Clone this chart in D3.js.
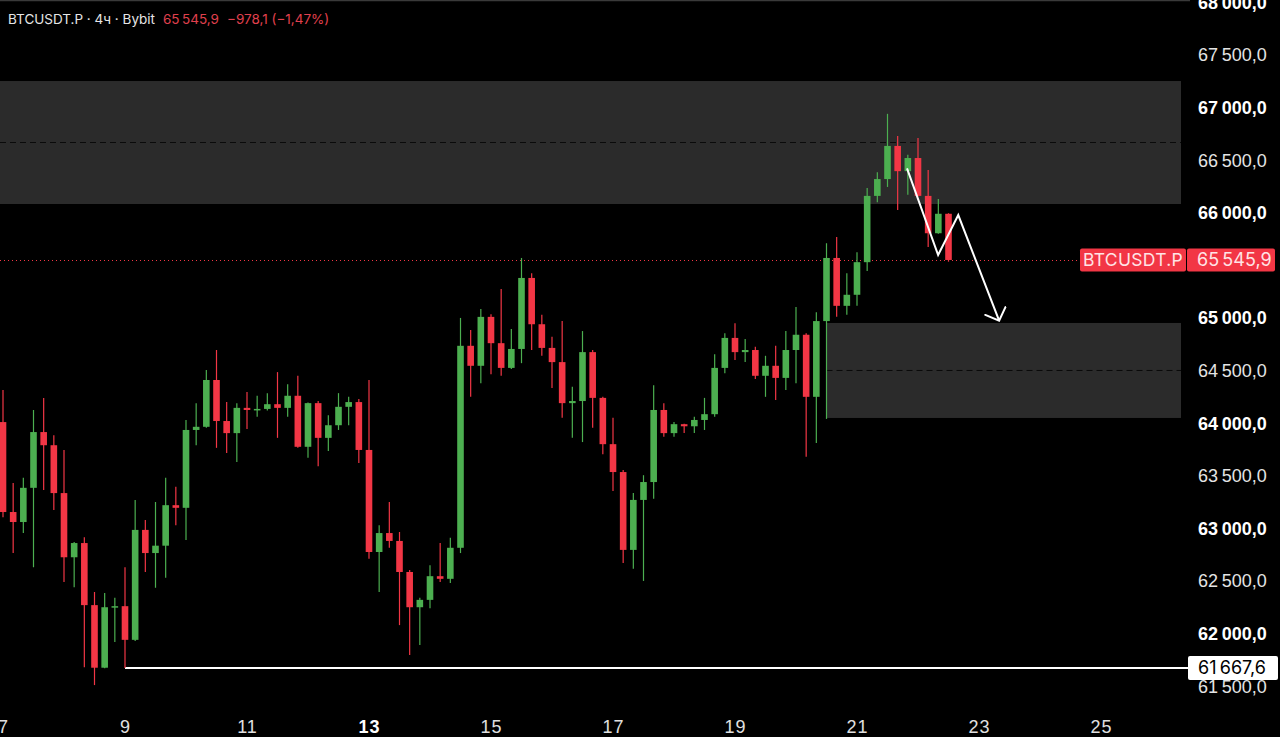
<!DOCTYPE html>
<html>
<head>
<meta charset="utf-8">
<script src="https://cdn.jsdelivr.net/npm/d3@7"></script>
<style>
  html, body { margin: 0; padding: 0; background: #000; }
  svg { display: block; font-family: Inter, "Noto Sans", sans-serif; }
</style>
</head>
<body>
<div id="chart"></div>
<script>
const width = 1280
const height = 737

// 4h candles, first bar opens on day 7 at 00:00
const firstBarDay = 7
const barsPerDay = 6

const opens = [64005, 63150, 63055, 63380, 63910, 63785, 63330, 62720, 62855, 62265, 61670, 62245,
    62255, 61935, 62980, 62760, 62830, 63215, 63190, 63930, 63960, 64405, 64015, 63900,
    64140, 64120, 64130, 64175, 64140, 64255, 63770, 64185, 63855, 63975, 64150, 64195,
    63740, 62770, 62950, 62875, 62580, 62245, 62315, 62540, 62515, 62810, 64730, 64540,
    65005, 64755, 64520, 64700, 65375, 64935, 64710, 64575, 64185, 64205, 64670, 64235,
    63795, 63530, 62790, 63265, 63435, 64120, 63900, 63985, 63965, 64025, 64080, 64520,
    64805, 64670, 64690, 64445, 64540, 64425, 64690, 64835, 64245, 64965, 65565, 65110,
    65215, 65525, 66155, 66315, 66630, 66390, 66515, 66155, 65800, 65985]
const highs = [64310, 63425, 63475, 64120, 64235, 63880, 63740, 62865, 62910, 62390, 62380, 62335,
    62625, 63265, 63075, 63245, 63475, 63390, 64025, 64185, 64500, 64690, 64195, 64185,
    64290, 64255, 64280, 64480, 64365, 64445, 64190, 64205, 64070, 64280, 64245, 64225,
    64405, 63025, 63245, 62960, 62600, 62335, 62645, 62855, 62905, 64995, 64880, 65080,
    65030, 65270, 64890, 65565, 65420, 65025, 64815, 64965, 64340, 64870, 64690, 64245,
    64045, 63550, 63330, 63500, 64355, 64185, 64005, 63990, 64055, 64235, 64650, 64850,
    64945, 64795, 64720, 64635, 64730, 64870, 65100, 64850, 65050, 65705, 65765, 65420,
    65620, 66230, 66380, 66935, 66725, 66545, 66705, 66400, 66125, 65990]
const lows = [63100, 62760, 62950, 62625, 63360, 63170, 62485, 62435, 61675, 61505, 61665, 61915,
    61667.6, 61925, 62580, 62430, 62525, 63025, 62885, 63785, 63950, 63760, 63710, 63625,
    63940, 64055, 64115, 63855, 64055, 63760, 63665, 63585, 63730, 63930, 63975, 63615,
    62705, 62390, 62810, 62075, 61790, 61885, 62235, 62485, 62475, 62760, 64245, 64375,
    64460, 64445, 64510, 64565, 64690, 64635, 64330, 64045, 63855, 63815, 63950, 63700,
    63350, 62665, 62610, 62495, 63275, 63865, 63865, 63900, 63900, 63930, 64055, 64470,
    64595, 64575, 64415, 64245, 64215, 64310, 64375, 63675, 63805, 64035, 65005, 65025,
    65110, 65440, 66095, 66240, 66020, 66165, 66150, 65670, 65795, 65530]
const closes = [63150, 63055, 63380, 63910, 63785, 63330, 62720, 62855, 62265, 61670, 62245, 62255,
    61935, 62980, 62760, 62830, 63215, 63190, 63930, 63960, 64405, 64015, 63900, 64140,
    64120, 64130, 64175, 64140, 64255, 63770, 64185, 63855, 63975, 64150, 64195, 63740,
    62770, 62950, 62875, 62580, 62245, 62315, 62540, 62515, 62810, 64730, 64540, 65005,
    64755, 64520, 64700, 65375, 64935, 64710, 64575, 64185, 64205, 64670, 64235, 63795,
    63530, 62790, 63265, 63435, 64120, 63900, 63985, 63965, 64025, 64080, 64520, 64805,
    64670, 64690, 64445, 64540, 64425, 64690, 64835, 64245, 64965, 65565, 65110, 65215,
    65525, 66155, 66315, 66630, 66390, 66515, 66155, 65800, 65985, 65545.9]

const yTicks = [61500, 62000, 62500, 63000, 63500, 64000, 64500, 65000, 66000, 66500, 67000, 67500, 68000]
const dayTicks = [7, 9, 11, 13, 15, 17, 19, 21, 23, 25]
const boldDay = 13

// supply / demand zones [low, high] and start day
const upperZone = [66078, 67247]
const lowerZone = [64044, 64947]
const lowerZoneStart = 20.5
const swingLow = 61667.6
const swingLowStart = 9
const lastPrice = 65545.9
const change = -978.1
const changePct = -1.47
const arrowPath = [[21.82, 66417], [22.33, 65593], [22.66, 65973], [23.33, 64969]]

const green = '#4caf50'
const red = '#f23645'

const locale = d3.formatLocale({ decimal: ',', thousands: '\u202f', grouping: [3], currency: ['', ''] })
const fmt = locale.format(',.1f')

const x = d3.scaleLinear().domain([7, 25]).range([3, 1101])
const y = d3.scaleLinear().domain([61500, 67000]).range([685.6, 107])
const paneRight = 1181

const bars = opens.map((o, i) => ({
    day: firstBarDay + i / barsPerDay,
    o, h: highs[i], l: lows[i], c: closes[i]
}))

const svg = d3.select('#chart').append('svg')
    .attr('width', width)
    .attr('height', height)

svg.append('rect').attr('width', width).attr('height', height).attr('fill', '#000')

// top separator
svg.append('line')
    .attr('x1', 0).attr('x2', 1190).attr('y1', 0.5).attr('y2', 0.5)
    .attr('stroke', '#3a3a3a').attr('stroke-width', 1.5)

// zones
const zone = (x0, range) => {
    svg.append('rect')
        .attr('x', x0).attr('width', paneRight - x0)
        .attr('y', y(range[1])).attr('height', y(range[0]) - y(range[1]))
        .attr('fill', '#2b2b2b')
    const mid = (range[0] + range[1]) / 2
    svg.append('line')
        .attr('x1', x0).attr('x2', paneRight)
        .attr('y1', y(mid)).attr('y2', y(mid))
        .attr('stroke', '#0a0a0a').attr('stroke-width', 1)
        .attr('stroke-dasharray', '6,4')
}
zone(0, upperZone)
zone(x(lowerZoneStart), lowerZone)

// last price dotted line
svg.append('line')
    .attr('x1', 0).attr('x2', 1080)
    .attr('y1', Math.round(y(lastPrice)) + 0.5).attr('y2', Math.round(y(lastPrice)) + 0.5)
    .attr('stroke', red).attr('stroke-width', 1)
    .attr('stroke-dasharray', '1,3')

// swing low line
svg.append('line')
    .attr('x1', x(swingLowStart)).attr('x2', 1188)
    .attr('y1', y(swingLow)).attr('y2', y(swingLow))
    .attr('stroke', '#fff').attr('stroke-width', 2)

// candles
const candle = svg.append('g').selectAll('g')
    .data(bars)
    .enter()
    .append('g')
    .attr('fill', d => d.c >= d.o ? green : red)
    .attr('stroke', d => d.c >= d.o ? green : red)

candle.append('line')
    .attr('x1', d => x(d.day)).attr('x2', d => x(d.day))
    .attr('y1', d => y(d.h)).attr('y2', d => y(d.l))
    .attr('stroke-width', 1.2)

candle.append('rect')
    .attr('x', d => x(d.day) - 3.3)
    .attr('width', 6.6)
    .attr('y', d => y(Math.max(d.o, d.c)))
    .attr('height', d => Math.max(1.5, Math.abs(y(d.o) - y(d.c))))
    .attr('stroke', 'none')

// arrow
svg.append('defs').append('marker')
    .attr('id', 'head')
    .attr('markerUnits', 'userSpaceOnUse')
    .attr('viewBox', '-1 -1 13 24')
    .attr('refX', 10.4).attr('refY', 10.8)
    .attr('markerWidth', 13).attr('markerHeight', 24)
    .attr('orient', 'auto')
    .append('path')
    .attr('d', 'M0,0 L10.4,10.8 L0,21.6')
    .attr('fill', 'none').attr('stroke', '#fff').attr('stroke-width', 2)
    .attr('stroke-linecap', 'round')

svg.append('path')
    .attr('d', d3.line().x(d => x(d[0])).y(d => y(d[1]))(arrowPath))
    .attr('fill', 'none').attr('stroke', '#fff').attr('stroke-width', 2)
    .attr('stroke-linejoin', 'miter')
    .attr('marker-end', 'url(#head)')

const labelStyle = sel => sel
    .style('font-size', '18px')
    .style('letter-spacing', '0.9px')

// price axis
const yAxis = svg.append('g')
    .attr('transform', 'translate(1198,0)')
    .call(d3.axisRight(y).tickValues(yTicks).tickSize(0).tickPadding(0).tickFormat(fmt))
yAxis.select('.domain').remove()
yAxis.selectAll('text')
    .attr('x', 0)
    .attr('dy', '0.36em')
    .attr('fill', d => d % 1000 === 0 ? '#fff' : '#e4e4e4')
    .call(labelStyle)
    .style('font-weight', d => d % 1000 === 0 ? 700 : 400)

// time axis
const xAxis = svg.append('g')
    .attr('transform', 'translate(0,727)')
    .call(d3.axisBottom(x).tickValues(dayTicks).tickSize(0).tickPadding(0).tickFormat(d3.format('d')))
xAxis.select('.domain').remove()
xAxis.selectAll('text')
    .attr('y', 0)
    .attr('dy', '0.36em')
    .attr('fill', d => d === boldDay ? '#fff' : '#e0e0e0')
    .call(labelStyle)
    .style('font-weight', d => d === boldDay ? 700 : 400)

// swing low label
svg.append('rect')
    .attr('x', 1188).attr('width', 90)
    .attr('y', y(swingLow) - 12).attr('height', 24)
    .attr('fill', '#fff').attr('rx', 2)
svg.append('text')
    .attr('x', 1198).attr('y', y(swingLow))
    .attr('dy', '0.36em')
    .attr('fill', '#000')
    .call(labelStyle)
    .text(fmt(swingLow))

// last price tags
const py = y(lastPrice)
svg.append('rect')
    .attr('x', 1080).attr('width', 106)
    .attr('y', py - 11.5).attr('height', 23)
    .attr('fill', red).attr('rx', 2)
svg.append('text')
    .attr('x', 1133).attr('y', py)
    .attr('dy', '0.36em')
    .attr('text-anchor', 'middle')
    .attr('fill', '#ffe4e6')
    .style('font-size', '17.5px')
    .style('letter-spacing', '0.3px')
    .text('BTCUSDT.P')
svg.append('rect')
    .attr('x', 1187).attr('width', 88)
    .attr('y', py - 11.5).attr('height', 23)
    .attr('fill', red).attr('rx', 2)
svg.append('text')
    .attr('x', 1197).attr('y', py)
    .attr('dy', '0.36em')
    .attr('fill', '#ffe4e6')
    .call(labelStyle)
    .text(fmt(lastPrice))

// header
const header = svg.append('text')
    .attr('x', 8).attr('y', 19)
    .attr('dy', '0.36em')
    .style('font-size', '13.5px')
header.append('tspan').attr('fill', '#e6e6e6').text('BTCUSDT.P · 4ч · Bybit')
header.append('tspan').attr('fill', '#e0404e').attr('dx', 8).text(fmt(lastPrice))
header.append('tspan').attr('fill', '#e0404e').attr('dx', 8)
    .text(fmt(change) + ' (' + locale.format('.2f')(changePct) + '%)')
</script>
</body>
</html>
